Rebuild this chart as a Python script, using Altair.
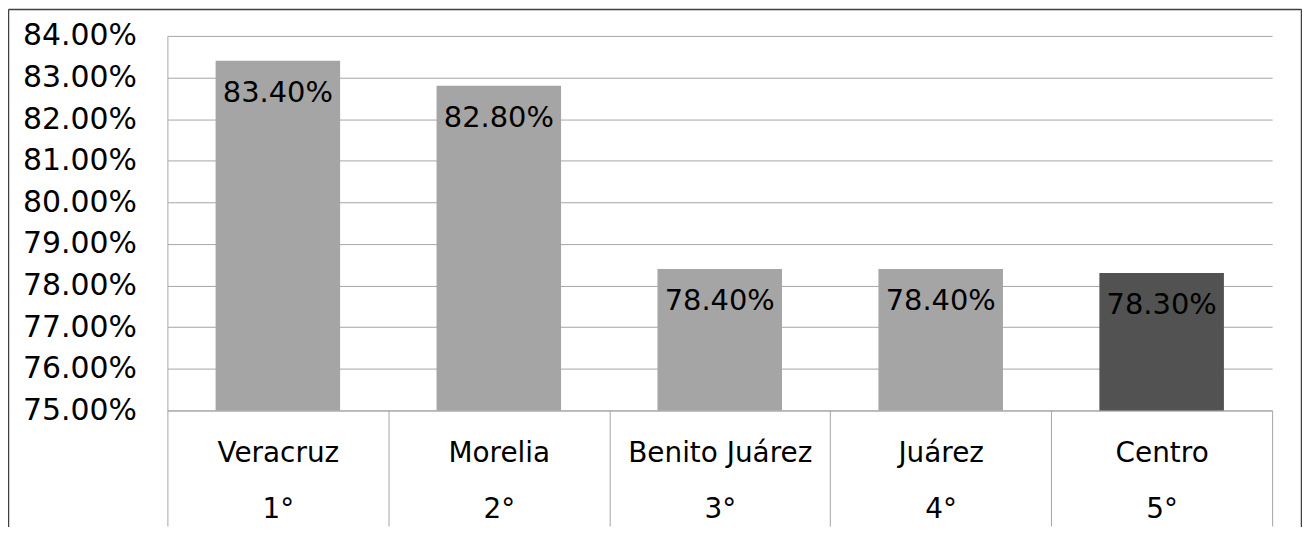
import altair as alt
import pandas as pd

municipios = ["Veracruz", "Morelia", "Benito Juárez", "Juárez", "Centro"]
lugares = ["1°", "2°", "3°", "4°", "5°"]
valores = [83.4, 82.8, 78.4, 78.4, 78.3]
destacado = [False, False, False, False, True]

df = pd.DataFrame({
    "cat": [f"{m}|{r}" for m, r in zip(municipios, lugares)],
    "valor": valores,
    "dest": ["si" if d else "no" for d in destacado],
})

FONT = "DejaVu Sans"
GRAY = "#A6A6A6"

x_enc = alt.X(
    "cat:N",
    sort=None,
    scale=alt.Scale(paddingInner=0, paddingOuter=0),
    axis=alt.Axis(
        title=None,
        labelExpr="split(datum.label, '|')",
        labelAngle=0,
        labelFont=FONT,
        labelFontSize=28,
        labelColor="#000000",
        labelLineHeight=56,
        labelBaseline="alphabetic",
        labelPadding=-65,
        tickBand="extent",
        tickSize=116,
        tickColor=GRAY,
        domainColor=GRAY,
        labelLimit=400,
    ),
)

y_scale = alt.Scale(domain=[75, 84], zero=False, nice=False)

base = alt.Chart(df)

bars = base.mark_bar(width=alt.RelativeBandSize(0.5636)).encode(
    x=x_enc,
    y=alt.Y(
        "valor:Q",
        scale=y_scale,
        axis=alt.Axis(
            title=None,
            values=[75, 76, 77, 78, 79, 80, 81, 82, 83, 84],
            labelExpr="format(datum.value, '.2f') + '%'",
            labelFont=FONT,
            labelFontSize=30,
            labelColor="#000000",
            labelPadding=31,
            ticks=False,
            domainColor=GRAY,
            gridColor=GRAY,
            grid=True,
        ),
    ),
    y2=alt.datum(75),
    color=alt.Color("dest:N", scale=alt.Scale(domain=["no", "si"], range=["#A5A5A5", "#525252"]), legend=None),
)

labels = base.transform_calculate(
    txt="format(datum.valor, '.2f') + '%'"
).mark_text(
    font=FONT, fontSize=29, baseline="alphabetic", align="center", dy=41, color="#000000"
).encode(
    x=alt.X("cat:N", sort=None),
    y=alt.Y("valor:Q", scale=y_scale),
    text="txt:N",
)

frame_df = pd.DataFrame({"k": [0]})
frame = alt.Chart(frame_df)
left = frame.mark_rule(color="#404040", strokeWidth=1.5).encode(
    x=alt.value(-159.5), y=alt.value(-26.5), y2=alt.value(530))
top = frame.mark_rule(color="#404040", strokeWidth=1.5).encode(
    x=alt.value(-159.5), x2=alt.value(1138.5), y=alt.value(-26.5))
right = frame.mark_rule(color="#404040", strokeWidth=1.5).encode(
    x=alt.value(1138.5), y=alt.value(-26.5), y2=alt.value(530))

chart = alt.layer(bars, labels, left, top, right).properties(
    width=1109,
    height=376,
    autosize="none",
    padding={"left": 160, "top": 27, "right": 30, "bottom": 116},
    background="white",
).configure_view(stroke=None)

chart.save("out.html", embed_options={"renderer": "svg", "actions": False})
